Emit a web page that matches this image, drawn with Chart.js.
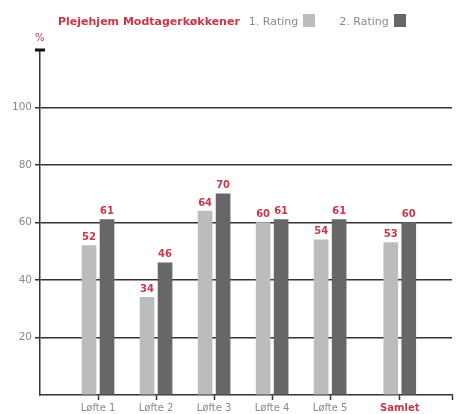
<!DOCTYPE html>
<html>
<head>
<meta charset="utf-8">
<script src="https://cdn.jsdelivr.net/npm/chart.js@4"></script>
<style>
  html, body { margin: 0; padding: 0; background: #fff; }
  #wrap { position: relative; width: 460px; height: 414px; font-family: "DejaVu Sans", sans-serif; }
  #chart { position: absolute; left: 0; top: 0; }
  #head { position: absolute; left: 58px; top: 14px; font-size: 11px; line-height: 13px; white-space: nowrap; }
  #head .title { color: #c8374a; font-weight: bold; margin-right: 9px; }
  #head .item { color: #8a8a8a; margin-right: 24px; }
  #head .box { display: inline-block; width: 12px; height: 13px; vertical-align: -2px; margin-left: 5px; }
  #unit { position: absolute; left: 35px; top: 32px; font-size: 10px; color: #c8374a; }
</style>
</head>
<body>
<div id="wrap">
  <canvas id="chart" width="460" height="414"></canvas>
  <div id="head"><span class="title">Plejehjem Modtagerkøkkener</span></div>
  <div id="unit">%</div>
</div>
<script>
'use strict';

//
// Data
//

var categories = ['Løfte 1', 'Løfte 2', 'Løfte 3', 'Løfte 4', 'Løfte 5', 'Samlet'];
var rating1 = [52, 34, 64, 60, 54, 53];
var rating2 = [61, 46, 70, 61, 61, 60];
var seriesNames = ['1. Rating', '2. Rating'];
var yTicks = [20, 40, 60, 80, 100];

// group positions on the x scale (Samlet stands a bit apart)
var groupX = [1, 2, 3, 4, 5, 6.2];
var xMax = 7.1;

var red = '#c8374a';
var grey = '#8a8a8a';
var axisColor = '#333';
var fontFamily = '"DejaVu Sans", sans-serif';

function points(values) {
  return values.map(function(v, i) { return { x: groupX[i], y: v }; });
}

// red value labels above the bars
var valueLabels = {
  id: 'valueLabels',
  afterDatasetsDraw: function(chart) {
    var ctx = chart.ctx;
    ctx.save();
    ctx.fillStyle = red;
    ctx.font = 'bold 10px ' + fontFamily;
    ctx.textAlign = 'center';
    ctx.textBaseline = 'bottom';
    chart.data.datasets.forEach(function(ds, di) {
      chart.getDatasetMeta(di).data.forEach(function(bar, i) {
        ctx.fillText(ds.data[i].y, bar.x, bar.y - 3);
      });
    });
    ctx.restore();
  }
};

// short thick cap on top of the y axis
var axisCap = {
  id: 'axisCap',
  afterDraw: function(chart) {
    var y = chart.scales.y;
    var ctx = chart.ctx;
    var px = y.getPixelForValue(120);
    ctx.save();
    ctx.strokeStyle = '#111';
    ctx.lineWidth = 3;
    ctx.beginPath();
    ctx.moveTo(chart.chartArea.left - 5, px);
    ctx.lineTo(chart.chartArea.left + 5, px);
    ctx.stroke();
    ctx.restore();
  }
};

var ctx = document.getElementById('chart').getContext('2d');
var chart = new Chart(ctx, {
  type: 'bar',
  data: {
    datasets: [{
      label: seriesNames[0],
      data: points(rating1),
      backgroundColor: '#bcbcbc'
    }, {
      label: seriesNames[1],
      data: points(rating2),
      backgroundColor: '#676767'
    }]
  },
  options: {
    responsive: false,
    animation: false,
    barThickness: 18,
    maxBarThickness: 14,
    layout: { padding: { top: 50, right: 8, left: 0, bottom: 0 } },
    plugins: {
      legend: { display: false },
      tooltip: { enabled: false }
    },
    scales: {
      x: {
        type: 'linear',
        min: 0,
        max: xMax,
        offset: false,
        afterBuildTicks: function(scale) {
          scale.ticks = groupX.concat([xMax]).map(function(v) { return { value: v }; });
        },
        afterFit: function(scale) { scale.height = 19; },
        border: { color: axisColor, width: 1.5 },
        grid: {
          offset: false,
          drawOnChartArea: false,
          drawTicks: true,
          tickLength: 5,
          tickColor: axisColor,
          tickWidth: 1.5
        },
        ticks: {
          padding: 2,
          maxRotation: 0,
          autoSkip: false,
          font: function(c) {
            return { family: fontFamily, size: 10, weight: c.index === 5 ? 'bold' : 'normal' };
          },
          color: function(c) { return c.index === 5 ? red : grey; },
          callback: function(value, index) { return categories[index] || ''; }
        }
      },
      y: {
        min: 0,
        max: 120,
        afterBuildTicks: function(scale) {
          scale.ticks = [0].concat(yTicks, [120]).map(function(v) { return { value: v }; });
        },
        afterFit: function(scale) { scale.width = 40; },
        border: { color: axisColor, width: 1.5 },
        grid: {
          color: function(c) {
            var v = c.tick && c.tick.value;
            return (v === 0 || v === 120) ? 'rgba(0,0,0,0)' : axisColor;
          },
          lineWidth: 1.5,
          tickLength: 5,
          tickColor: function(c) {
            var v = c.tick && c.tick.value;
            return (v === 0 || v === 120) ? 'rgba(0,0,0,0)' : axisColor;
          }
        },
        ticks: {
          padding: 3,
          color: grey,
          font: { family: fontFamily, size: 10.5 },
          callback: function(value) { return yTicks.indexOf(value) >= 0 ? value : ''; }
        }
      }
    }
  },
  plugins: [valueLabels, axisCap]
});

// legend with the text first and the swatch after it
var head = document.getElementById('head');
chart.data.datasets.forEach(function(ds) {
  var item = document.createElement('span');
  item.className = 'item';
  item.textContent = ds.label;
  var box = document.createElement('span');
  box.className = 'box';
  box.style.background = ds.backgroundColor;
  item.appendChild(box);
  head.appendChild(item);
});
</script>
</body>
</html>
